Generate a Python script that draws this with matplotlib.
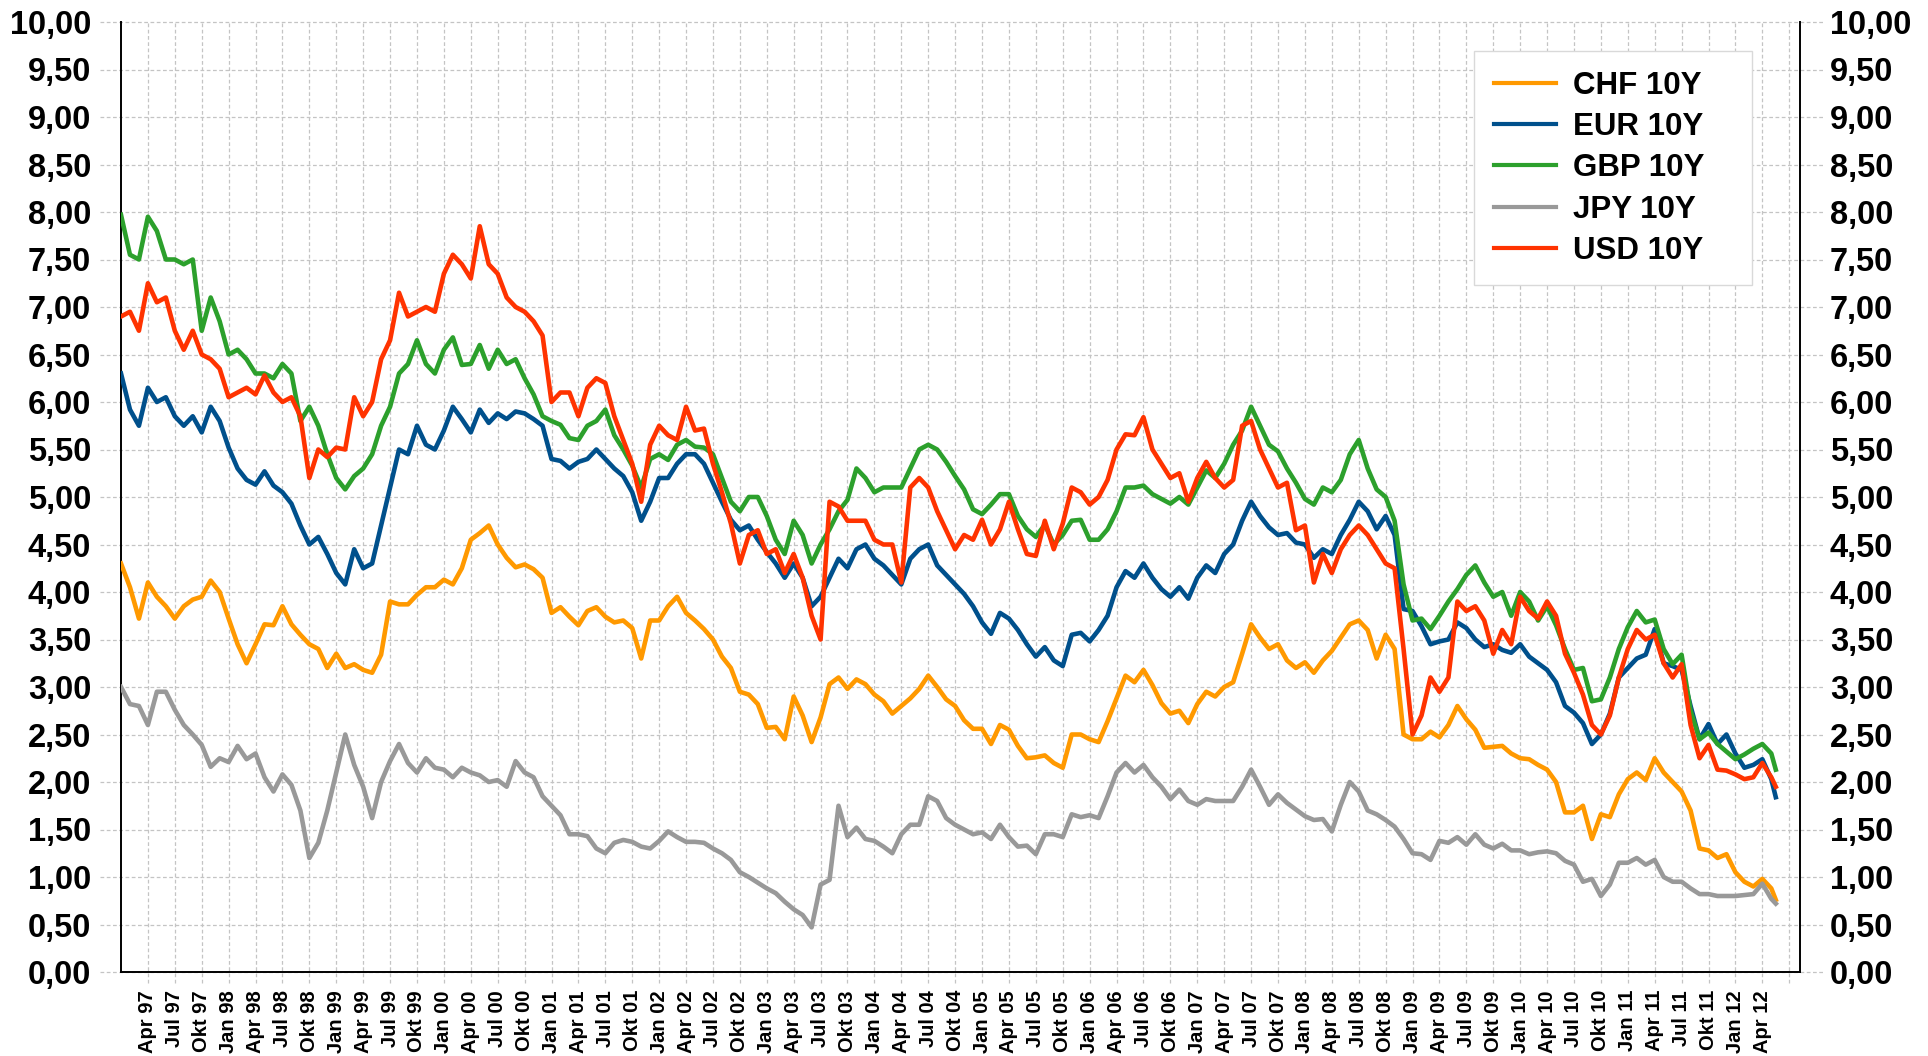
import numpy as np
import matplotlib
matplotlib.use("Agg")
import matplotlib.pyplot as plt
from matplotlib.ticker import FuncFormatter

plt.rcParams["font.family"] = ["Liberation Sans", "DejaVu Sans"]
plt.rcParams["font.weight"] = "bold"

# ---------------- data (monthly readings, Jan 1997 .. Apr 2012, plus mid-May 2012) --------------
series_names = ["CHF 10Y", "EUR 10Y", "GBP 10Y", "JPY 10Y", "USD 10Y"]
series_colors = ["#FF9900", "#00508C", "#2CA02C", "#999999", "#FF3300"]

start_year = 1997
month_index = list(range(185)) + [184.5]

chf = [4.3, 4.05, 3.72, 4.1, 3.95, 3.85, 3.72, 3.85, 3.92, 3.95, 4.12, 4.0, 3.72, 3.45, 3.25, 3.45,
       3.66, 3.65, 3.85, 3.66, 3.55, 3.45, 3.4, 3.2, 3.35, 3.2, 3.24, 3.18, 3.15, 3.34, 3.9, 3.87,
       3.87, 3.97, 4.05, 4.05, 4.13, 4.08, 4.25, 4.55, 4.62, 4.7, 4.5, 4.36, 4.26, 4.29, 4.24, 4.15,
       3.78, 3.84, 3.74, 3.65, 3.8, 3.84, 3.74, 3.68, 3.7, 3.62, 3.3, 3.7, 3.7, 3.85, 3.95, 3.78,
       3.7, 3.61, 3.5, 3.32, 3.2, 2.95, 2.92, 2.82, 2.57, 2.58, 2.45, 2.9, 2.7, 2.42, 2.68, 3.03,
       3.1, 2.98, 3.08, 3.03, 2.92, 2.85, 2.72, 2.8, 2.88, 2.98, 3.12, 3.0, 2.87, 2.8, 2.65,
       2.56, 2.56, 2.4, 2.6, 2.55, 2.38, 2.25, 2.26, 2.28, 2.2, 2.15, 2.5, 2.5, 2.45, 2.42, 2.64,
       2.88, 3.12, 3.05, 3.18, 3.02, 2.83, 2.72, 2.75, 2.62, 2.82, 2.95, 2.9, 3.0, 3.05, 3.35,
       3.66, 3.52, 3.4, 3.45, 3.28, 3.2, 3.26, 3.15, 3.28, 3.38, 3.52, 3.66, 3.7, 3.6, 3.3, 3.55,
       3.4, 2.5, 2.45, 2.45, 2.53, 2.47, 2.6, 2.8, 2.66, 2.55, 2.36, 2.37, 2.38, 2.3,
       2.25, 2.24, 2.18, 2.13, 2.0, 1.68, 1.68, 1.75, 1.4, 1.66, 1.63, 1.87, 2.03, 2.1, 2.02, 2.25,
       2.1, 2.0, 1.9, 1.7, 1.3, 1.28, 1.2, 1.24, 1.05, 0.95, 0.9, 0.98, 0.88, 0.76]

eur = [6.3, 5.92, 5.75, 6.15, 6.0, 6.05, 5.85, 5.75, 5.85, 5.68, 5.95, 5.8, 5.52, 5.3, 5.18, 5.13,
       5.27, 5.12, 5.05, 4.93, 4.7, 4.5, 4.58, 4.4, 4.2, 4.08, 4.45, 4.25, 4.3, 4.7, 5.1, 5.5,
       5.45, 5.75, 5.55, 5.5, 5.7, 5.95, 5.82, 5.68, 5.92, 5.78, 5.88, 5.82, 5.9, 5.88, 5.82, 5.75,
       5.4, 5.38, 5.3, 5.37, 5.4, 5.5, 5.4, 5.3, 5.22, 5.05, 4.75, 4.95, 5.2, 5.2, 5.35, 5.45,
       5.45, 5.35, 5.15, 4.95, 4.76, 4.65, 4.7, 4.55, 4.42, 4.3, 4.15, 4.3, 4.15, 3.85, 3.95, 4.15,
       4.35, 4.25, 4.45, 4.5, 4.35, 4.28, 4.18, 4.08, 4.35, 4.45, 4.5, 4.28, 4.18, 4.08, 3.98,
       3.85, 3.68, 3.56, 3.78, 3.72, 3.6, 3.45, 3.32, 3.42, 3.28, 3.22, 3.55, 3.57, 3.48, 3.6, 3.75,
       4.05, 4.22, 4.15, 4.3, 4.15, 4.03, 3.95, 4.05, 3.93, 4.15, 4.28, 4.2, 4.4, 4.5, 4.75,
       4.95, 4.8, 4.68, 4.6, 4.62, 4.52, 4.5, 4.36, 4.45, 4.4, 4.6, 4.76, 4.95, 4.85, 4.66, 4.8,
       4.6, 3.82, 3.8, 3.64, 3.45, 3.48, 3.5, 3.68, 3.62, 3.5, 3.42, 3.45, 3.39, 3.36,
       3.45, 3.32, 3.25, 3.18, 3.05, 2.8, 2.73, 2.62, 2.4, 2.5, 2.72, 3.1, 3.2, 3.3, 3.34, 3.61,
       3.25, 3.22, 3.18, 2.8, 2.45, 2.61, 2.4, 2.5, 2.3, 2.15, 2.18, 2.24, 2.03, 1.84]

gbp = [7.97, 7.55, 7.5, 7.95, 7.8, 7.5, 7.5, 7.45, 7.5, 6.75, 7.1, 6.85, 6.5, 6.55, 6.45, 6.3,
       6.3, 6.25, 6.4, 6.3, 5.8, 5.95, 5.75, 5.45, 5.2, 5.08, 5.22, 5.3, 5.45, 5.75, 5.95, 6.3,
       6.4, 6.65, 6.4, 6.3, 6.55, 6.68, 6.39, 6.4, 6.6, 6.35, 6.55, 6.4, 6.45, 6.25, 6.08, 5.85,
       5.8, 5.76, 5.62, 5.6, 5.75, 5.8, 5.92, 5.65, 5.5, 5.33, 5.1, 5.4, 5.45, 5.39, 5.55, 5.6,
       5.53, 5.52, 5.45, 5.2, 4.95, 4.85, 5.0, 5.0, 4.8, 4.55, 4.4, 4.75, 4.6, 4.3, 4.5, 4.66,
       4.85, 4.97, 5.3, 5.2, 5.05, 5.1, 5.1, 5.1, 5.3, 5.5, 5.55, 5.5, 5.37, 5.22, 5.08,
       4.87, 4.82, 4.92, 5.03, 5.03, 4.8, 4.66, 4.58, 4.71, 4.5, 4.6, 4.75, 4.76, 4.55, 4.55, 4.66,
       4.85, 5.1, 5.1, 5.12, 5.03, 4.98, 4.93, 5.0, 4.92, 5.1, 5.28, 5.2, 5.35, 5.55, 5.7,
       5.95, 5.75, 5.55, 5.48, 5.3, 5.15, 4.98, 4.92, 5.1, 5.05, 5.18, 5.45, 5.6, 5.3, 5.08, 5.0,
       4.75, 4.08, 3.7, 3.72, 3.61, 3.75, 3.9, 4.03, 4.18, 4.28, 4.1, 3.95, 4.0, 3.75,
       4.0, 3.9, 3.7, 3.85, 3.65, 3.4, 3.18, 3.2, 2.85, 2.87, 3.1, 3.4, 3.63, 3.8, 3.68, 3.71,
       3.4, 3.24, 3.34, 2.75, 2.45, 2.52, 2.4, 2.32, 2.24, 2.29, 2.35, 2.4, 2.3, 2.13]

jpy = [3.0, 2.82, 2.8, 2.6, 2.95, 2.95, 2.76, 2.6, 2.5, 2.39, 2.16, 2.25, 2.21, 2.38, 2.24, 2.3,
       2.05, 1.9, 2.08, 1.97, 1.7, 1.2, 1.36, 1.7, 2.1, 2.5, 2.18, 1.95, 1.62, 2.0, 2.22, 2.4,
       2.2, 2.1, 2.25, 2.15, 2.13, 2.05, 2.15, 2.1, 2.07, 2.0, 2.02, 1.95, 2.22, 2.1, 2.05, 1.85,
       1.75, 1.65, 1.45, 1.45, 1.43, 1.3, 1.25, 1.36, 1.39, 1.37, 1.32, 1.3, 1.38, 1.48, 1.42, 1.37,
       1.37, 1.36, 1.3, 1.25, 1.18, 1.05, 1.0, 0.94, 0.88, 0.83, 0.74, 0.66, 0.6, 0.47, 0.92, 0.97,
       1.75, 1.42, 1.52, 1.4, 1.38, 1.32, 1.25, 1.45, 1.55, 1.55, 1.85, 1.8, 1.62, 1.55, 1.5,
       1.45, 1.47, 1.4, 1.55, 1.42, 1.32, 1.33, 1.24, 1.45, 1.45, 1.42, 1.66, 1.63, 1.65, 1.62, 1.85,
       2.1, 2.2, 2.1, 2.18, 2.05, 1.95, 1.82, 1.92, 1.8, 1.76, 1.82, 1.8, 1.8, 1.8, 1.95,
       2.13, 1.95, 1.76, 1.87, 1.78, 1.71, 1.64, 1.6, 1.61, 1.48, 1.76, 2.0, 1.9, 1.7, 1.66, 1.6,
       1.53, 1.4, 1.25, 1.24, 1.18, 1.38, 1.36, 1.42, 1.34, 1.45, 1.34, 1.3, 1.35, 1.28,
       1.28, 1.24, 1.26, 1.27, 1.25, 1.17, 1.13, 0.95, 0.98, 0.8, 0.92, 1.15, 1.15, 1.2, 1.13, 1.18,
       1.0, 0.95, 0.95, 0.88, 0.82, 0.82, 0.8, 0.8, 0.8, 0.81, 0.82, 0.93, 0.77, 0.72]

usd = [6.9, 6.95, 6.75, 7.25, 7.05, 7.1, 6.75, 6.55, 6.75, 6.5, 6.45, 6.35, 6.05, 6.1, 6.15, 6.08,
       6.28, 6.1, 6.0, 6.05, 5.85, 5.2, 5.5, 5.42, 5.52, 5.5, 6.05, 5.85, 6.0, 6.45, 6.65, 7.15,
       6.9, 6.95, 7.0, 6.95, 7.35, 7.55, 7.45, 7.3, 7.85, 7.45, 7.35, 7.1, 7.0, 6.95, 6.85, 6.7,
       6.0, 6.1, 6.1, 5.85, 6.15, 6.25, 6.2, 5.85, 5.6, 5.35, 4.95, 5.55, 5.75, 5.65, 5.6, 5.95,
       5.7, 5.72, 5.35, 5.05, 4.72, 4.3, 4.6, 4.65, 4.4, 4.45, 4.2, 4.4, 4.15, 3.75, 3.5, 4.95,
       4.9, 4.75, 4.75, 4.75, 4.55, 4.5, 4.5, 4.1, 5.1, 5.2, 5.1, 4.85, 4.65, 4.45, 4.6,
       4.55, 4.76, 4.5, 4.66, 4.95, 4.66, 4.4, 4.38, 4.75, 4.45, 4.72, 5.1, 5.05, 4.92, 5.0, 5.18,
       5.5, 5.66, 5.65, 5.84, 5.5, 5.35, 5.2, 5.25, 4.95, 5.2, 5.37, 5.2, 5.1, 5.18, 5.75,
       5.8, 5.5, 5.3, 5.1, 5.15, 4.65, 4.7, 4.1, 4.4, 4.2, 4.45, 4.6, 4.7, 4.6, 4.45, 4.3,
       4.25, 3.4, 2.5, 2.7, 3.1, 2.95, 3.1, 3.9, 3.8, 3.85, 3.7, 3.35, 3.6, 3.45,
       3.95, 3.8, 3.72, 3.9, 3.75, 3.35, 3.15, 2.92, 2.6, 2.5, 2.7, 3.1, 3.4, 3.6, 3.5, 3.55,
       3.25, 3.1, 3.24, 2.6, 2.25, 2.39, 2.13, 2.12, 2.08, 2.03, 2.05, 2.2, 2.05, 1.95]

# quarterly tick labels (German month abbreviations); last gridline (Jul 12) carries no label
quarter_months = ["Jan", "Apr", "Jul", "Okt"]
tick_labels = [f"{quarter_months[q]} {y % 100:02d}"
               for y in range(1997, 2013) for q in range(4)][1:62] + [""]
y_ticks = np.arange(0, 10.001, 0.5)

# ---------------- figure ----------------
for name, s in zip(series_names, [chf, eur, gbp, jpy, usd]):
    assert len(s) == len(month_index), (name, len(s))

t = start_year + np.array(month_index, dtype=float) / 12.0
tick_pos = start_year + (np.arange(1, 63)) * 0.25

fig = plt.figure(figsize=(19.28, 10.56), dpi=100)
ax = fig.add_axes([121 / 1928, 84 / 1056, 1679 / 1928, 950 / 1056])

ax.set_xlim(1997.0, 2012.6)
ax.set_ylim(0, 10)

grid_color = "#c4c4c4"
grid_ls = (0, (3, 2))
for v in y_ticks:
    ax.axhline(v, xmin=-0.0125, xmax=1.015, color=grid_color, lw=0.9, ls=grid_ls,
               clip_on=False, zorder=0)
for xp in tick_pos:
    ax.axvline(xp, ymin=-0.012, ymax=1.0, color=grid_color, lw=0.9, ls=grid_ls,
               clip_on=False, zorder=0)

for name, s, c in zip(series_names, [chf, eur, gbp, jpy, usd], series_colors):
    ax.plot(t, s, color=c, lw=3.3, label=name, solid_joinstyle="round", zorder=3)

ax.set_yticks(y_ticks)
ax.yaxis.set_major_formatter(FuncFormatter(lambda v, p: f"{v:.2f}".replace(".", ",")))
ax.tick_params(axis="y", left=False, right=False, labelleft=True, labelright=True,
               labelsize=23.5, pad=18)

ax.set_xticks(tick_pos)
ax.set_xticklabels(tick_labels, rotation=90, fontsize=14.5, fontweight="bold")
ax.tick_params(axis="x", length=0, pad=13)

for side in ["left", "right", "bottom"]:
    ax.spines[side].set_color("black")
    ax.spines[side].set_linewidth(1.4)
ax.spines["top"].set_visible(False)

leg = ax.legend(loc="upper right", bbox_to_anchor=(0.806, 0.4, 0.1654, 0.569),
                mode="expand", borderaxespad=0,
                prop={"size": 22.5, "weight": "bold"}, frameon=True, fancybox=False,
                edgecolor="#d9d9d9", framealpha=1, handlelength=2.0, handletextpad=0.55,
                labelspacing=0.36, borderpad=0.62)
leg.get_frame().set_linewidth(1.0)
for line in leg.get_lines():
    line.set_linewidth(3.0)

fig.savefig("out.png", dpi=100, facecolor="white")
